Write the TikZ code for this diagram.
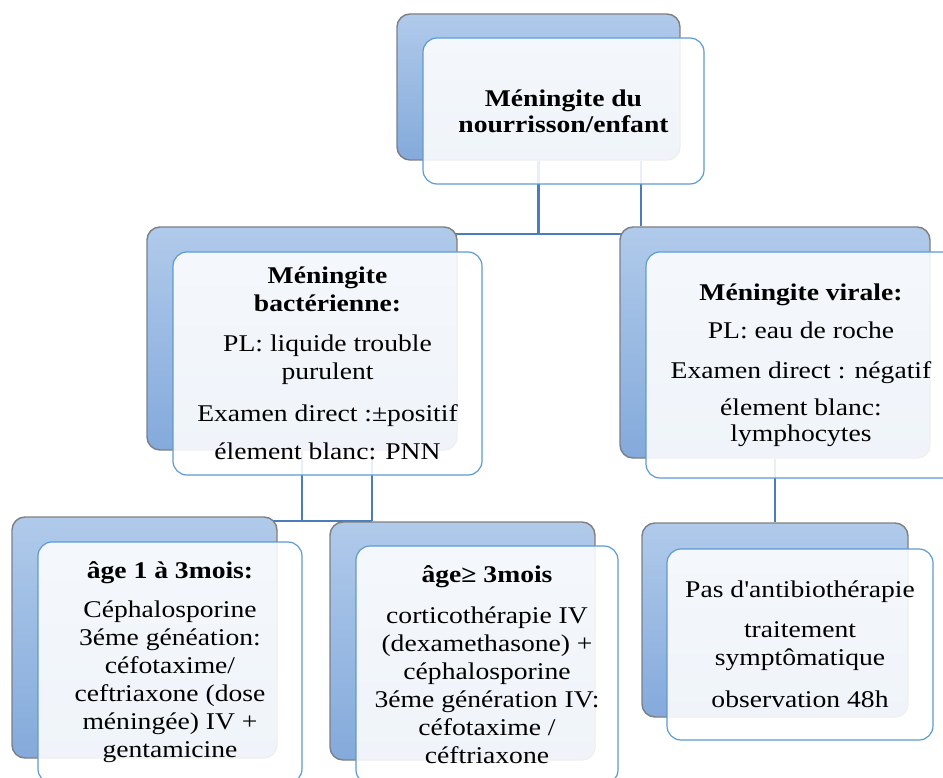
\documentclass[tikz,border=0pt]{standalone}
\usepackage{fontspec}
\setmainfont{Liberation Serif}[FakeStretch=1.15, Ligatures=TeXOff]
\pgfdeclarelayer{links}
\pgfsetlayers{links,main}

\definecolor{boxgrey}{HTML}{7F7F7F}
\definecolor{backtop}{HTML}{B0CAEA}
\definecolor{backbot}{HTML}{84AADB}
\definecolor{frontline}{HTML}{5B9BD5}
\definecolor{linkblue}{HTML}{4A7EBB}

\tikzset{
  backbox/.style={draw=boxgrey, line width=1.4pt, rounded corners=13pt,
    top color=backtop, bottom color=backbot, inner sep=0pt},
  frontbox/.style={draw=frontline, line width=1.2pt, rounded corners=14pt,
    fill=white, fill opacity=0.88, text opacity=1, align=center,
    inner sep=0pt, font=\fontsize{24}{28}\selectfont},
  link/.style={draw=linkblue, line width=2.6pt},
}

\begin{document}
\begin{tikzpicture}[x=1pt,y=-1pt]
\useasboundingbox (0,0) rectangle (943,778);
\clip (0,0) rectangle (943,778);

% top level
\node[backbox, minimum width=283pt, minimum height=146pt] (topB) at (538.5,87) {};
\node[frontbox, minimum width=281pt, minimum height=146pt, font=\fontsize{24}{26}\selectfont]
  (top) at (563.5,111) {\textbf{Méningite du}\\\textbf{nourrisson/enfant}};

% second level
\node[backbox, minimum width=310pt, minimum height=223pt] (midLB) at (302,338.5) {};
\node[frontbox, minimum width=309pt, minimum height=223pt] (midL) at (327.5,363.5)
  {\textbf{Méningite}\\\textbf{bactérienne:}\\[12pt]PL: liquide trouble\\purulent\\[14pt]Examen direct :±positif\\[10pt]élement blanc: PNN};

\node[backbox, minimum width=310pt, minimum height=231pt] (midRB) at (775,342.5) {};
\node[frontbox, minimum width=310pt, minimum height=226pt, font=\fontsize{24}{26}\selectfont]
  (midR) at (801,365)
  {\textbf{Méningite virale:}\\[12pt]PL: eau de roche\\[14pt]Examen direct : négatif\\[11pt]élement blanc:\\lymphocytes};

% third level
\node[backbox, minimum width=265pt, minimum height=241pt] (botLB) at (144.5,637.5) {};
\node[frontbox, minimum width=264pt, minimum height=241pt] (botL) at (170,662.5)
  {\textbf{âge 1 à 3mois:}\\[11pt]Céphalosporine\\3éme généation:\\céfotaxime/\\ceftriaxone (dose\\méningée) IV +\\gentamicine};

\node[backbox, minimum width=265pt, minimum height=238pt] (botMB) at (462.5,641) {};
\node[frontbox, minimum width=262pt, minimum height=238pt] (botM) at (487,665)
  {\textbf{âge≥ 3mois}\\[13pt]corticothérapie IV\\(dexamethasone) +\\céphalosporine\\3éme génération IV:\\céfotaxime /\\céftriaxone};

\node[backbox, minimum width=266pt, minimum height=194pt] (botRB) at (775,620) {};
\node[frontbox, minimum width=266pt, minimum height=191pt] (botR) at (800,644.5)
  {Pas d'antibiothérapie\\[12pt]traitement\\symptômatique\\[14pt]observation 48h};

% junction points of the tree connectors
\coordinate (j1) at (538.5,234);
\coordinate (j2) at (641,234);
\coordinate (j3) at (302,521);
\coordinate (j4) at (372,521);

\begin{pgfonlayer}{links}
  \draw[link] (topB.south) -- (j1);
  \draw[link] (midLB.center |- j1) -- (midRB.center |- j1);
  \draw[link] (topB.south -| j2) -- (midRB.north -| j2);
  \draw[link] (midLB.south) -- (j3);
  \draw[link] (botLB.center |- j3) -- (j4);
  \draw[link] (midLB.south -| j4) -- (botMB.north -| j4);
  \draw[link] (midRB.south) -- (botRB.north);
\end{pgfonlayer}
\end{tikzpicture}
\end{document}
